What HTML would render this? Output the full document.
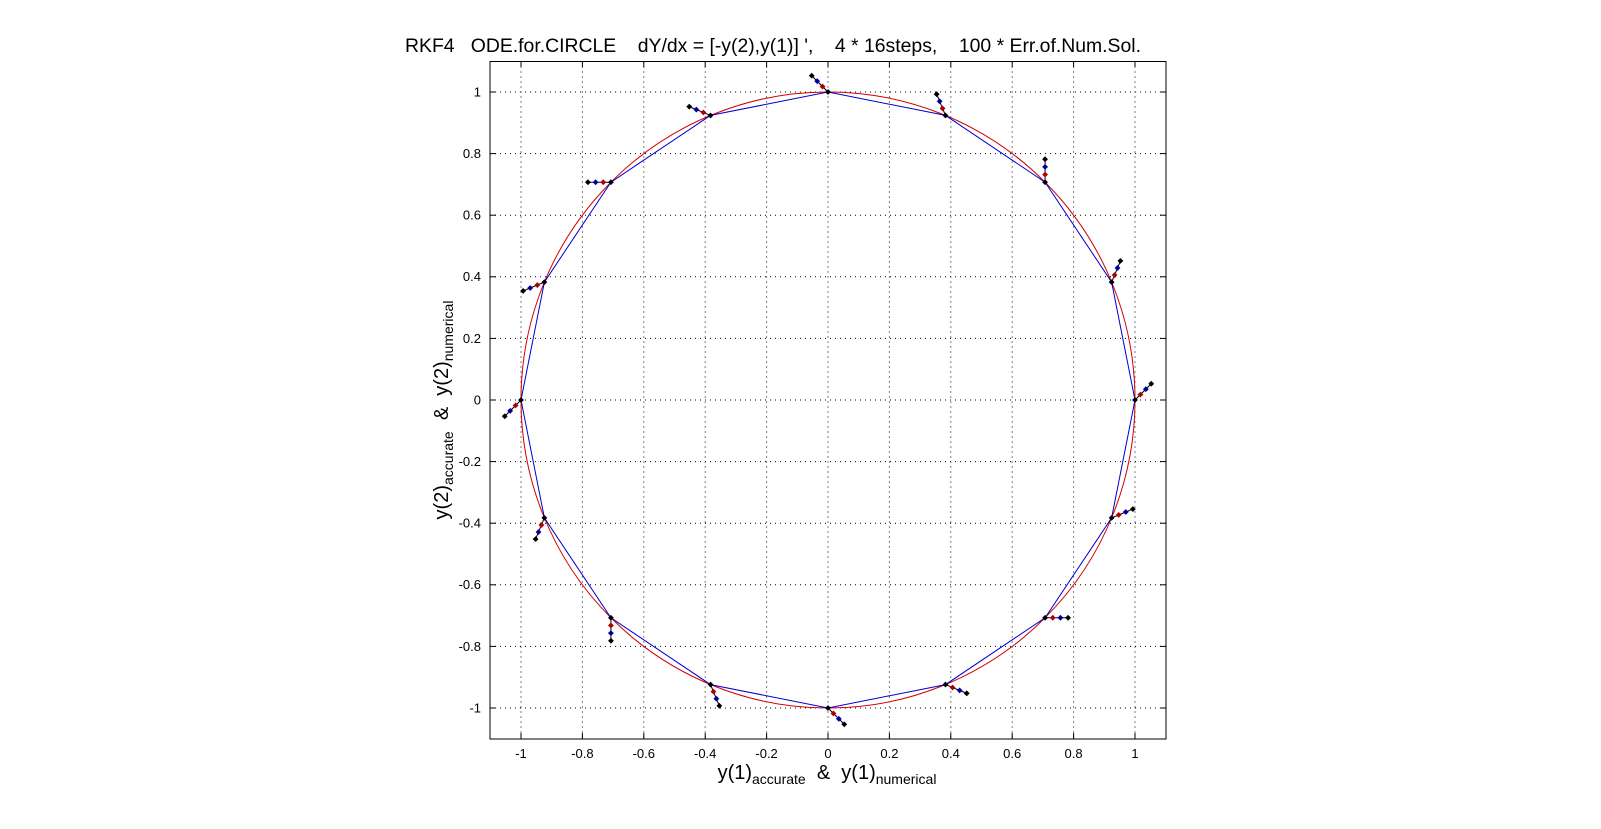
<!DOCTYPE html>
<html><head><meta charset="utf-8"><style>
html,body{margin:0;padding:0;background:#fff;}
svg{display:block;font-family:"Liberation Sans",Arial,sans-serif;}
</style></head><body>
<svg id="s" width="1601" height="829" viewBox="0 0 1601 829" xmlns="http://www.w3.org/2000/svg">
<rect width="1601" height="829" fill="#fff"/>
<text x="773" y="52" font-size="19.4" text-anchor="middle" xml:space="preserve" style="white-space:pre">RKF4   ODE.for.CIRCLE    dY/dx = [-y(2),y(1)] ',    4 * 16steps,    100 * Err.of.Num.Sol.</text>
<g id="grid" stroke="#000" stroke-width="1" stroke-dasharray="1,4"></g>
<rect x="490" y="61.5" width="676" height="677.5" fill="none" stroke="#000" stroke-width="1"/>
<g id="ticks" stroke="#000" stroke-width="1"></g>
<g font-size="13" text-anchor="middle">
<text x="521" y="758">-1</text><text x="582.4" y="758">-0.8</text><text x="643.8" y="758">-0.6</text><text x="705.2" y="758">-0.4</text><text x="766.6" y="758">-0.2</text><text x="828" y="758">0</text><text x="889.4" y="758">0.2</text><text x="950.8" y="758">0.4</text><text x="1012.2" y="758">0.6</text><text x="1073.6" y="758">0.8</text><text x="1135" y="758">1</text>
</g>
<g font-size="13" text-anchor="end">
<text x="481" y="96.5">1</text><text x="481" y="158">0.8</text><text x="481" y="219.6">0.6</text><text x="481" y="281.2">0.4</text><text x="481" y="342.8">0.2</text><text x="481" y="404.5">0</text><text x="481" y="466">-0.2</text><text x="481" y="527.6">-0.4</text><text x="481" y="589.2">-0.6</text><text x="481" y="650.8">-0.8</text><text x="481" y="712.5">-1</text>
</g>
<text x="827" y="779" font-size="20" text-anchor="middle" xml:space="preserve" style="white-space:pre">y(1)<tspan font-size="14" dy="5">accurate</tspan><tspan dy="-5">  &amp;  y(1)</tspan><tspan font-size="14" dy="5">numerical</tspan></text>
<text transform="translate(448,410) rotate(-90)" font-size="20" text-anchor="middle" xml:space="preserve" style="white-space:pre">y(2)<tspan font-size="14" dy="5">accurate</tspan><tspan dy="-5">  &amp;  y(2)</tspan><tspan font-size="14" dy="5">numerical</tspan></text>
<ellipse cx="828" cy="400" rx="307" ry="308" fill="none" stroke="#d00000" stroke-width="1"/>
<g id="data"></g>
</svg>
<script>
var NS="http://www.w3.org/2000/svg";
function el(p,t,a){var e=document.createElementNS(NS,t);for(var k in a)e.setAttribute(k,a[k]);p.appendChild(e);return e;}
function X(x){return 828+307*x;} function Y(y){return 400-308*y;}
var g=document.getElementById('grid'),t=document.getElementById('ticks');
for(var i=-5;i<=5;i++){var v=i*0.2;
 el(g,'line',{x1:X(v),x2:X(v),y1:61.5,y2:739});
 el(g,'line',{y1:Y(v),y2:Y(v),x1:490,x2:1166});
 el(t,'line',{x1:X(v),x2:X(v),y1:739,y2:733});
 el(t,'line',{x1:X(v),x2:X(v),y1:61.5,y2:67.5});
 el(t,'line',{y1:Y(v),y2:Y(v),x1:490,x2:496});
 el(t,'line',{y1:Y(v),y2:Y(v),x1:1166,x2:1160});
}
var d=document.getElementById('data'),pts=[];
for(var k=0;k<=16;k++){var a=k*Math.PI/8;pts.push(X(Math.cos(a)).toFixed(1)+','+Y(Math.sin(a)).toFixed(1));}
el(d,'polyline',{points:pts.join(' '),fill:'none',stroke:'#0000d0','stroke-width':1});
function mk(x,y,c){el(d,'path',{d:'M'+(x-2.5)+' '+y+'L'+x+' '+(y-2.5)+'L'+(x+2.5)+' '+y+'L'+x+' '+(y+2.5)+'Z',fill:c,stroke:c,'stroke-width':0.6});}
for(var k=0;k<16;k++){var a=k*Math.PI/8,px=X(Math.cos(a)),py=Y(Math.sin(a)),f=a+Math.PI/4;
 var dx=23*Math.cos(f),dy=-23*Math.sin(f);
 el(d,'line',{x1:px,y1:py,x2:px+dx,y2:py+dy,stroke:'#000','stroke-width':1});
 mk(px,py,'#000');mk(px+dx/3,py+dy/3,'#b00000');mk(px+2*dx/3,py+2*dy/3,'#0000a0');mk(px+dx,py+dy,'#000');
}
</script>
</body></html>
